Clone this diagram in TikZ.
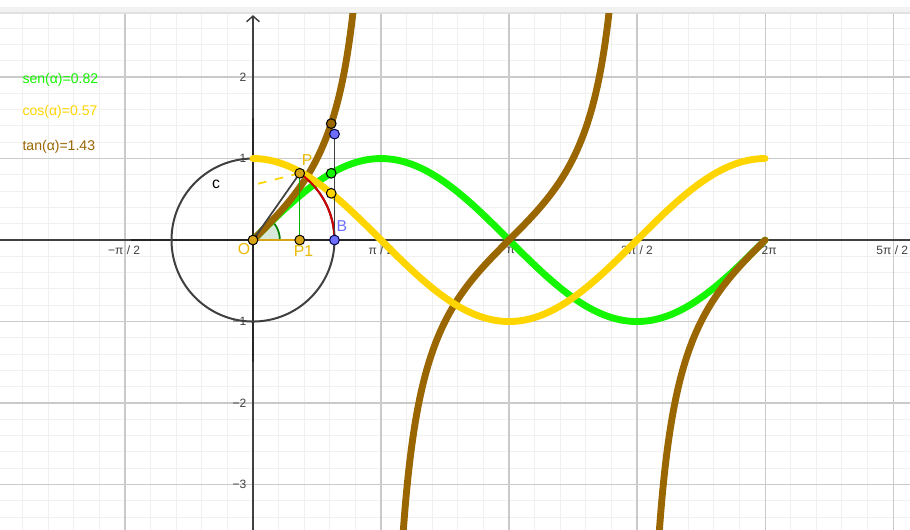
\documentclass[tikz,border=0pt]{standalone}
\usepackage{fontspec}
\setmainfont{Liberation Sans}
\usetikzlibrary{arrows.meta}
\definecolor{sencol}{RGB}{20,245,0}
\definecolor{coscol}{RGB}{255,213,0}
\definecolor{tancol}{RGB}{153,102,0}
\definecolor{ptcol}{RGB}{214,164,20}
\definecolor{lblcol}{RGB}{235,185,0}
\definecolor{bluecol}{RGB}{110,110,255}
\definecolor{axcol}{RGB}{64,64,64}
\definecolor{minorgrid}{RGB}{240,240,240}
\definecolor{majorgrid}{RGB}{202,202,202}

\begin{document}
\begin{tikzpicture}[>={Straight Barb[length=2pt,width=4.5pt]},
  curve/.style={line width=2.4pt,line cap=round,line join=round},
  pt/.style={circle,draw=black,line width=0.35pt,inner sep=0pt,minimum size=3.4pt},
  ticklbl/.style={font=\fontsize{4.2}{5}\selectfont,text=axcol,inner sep=0pt},
  ptlbl/.style={font=\fontsize{5.5}{6}\selectfont,inner sep=0pt},
  legend/.style={font=\fontsize{4.9}{6}\selectfont,inner sep=0pt,anchor=west}]
\useasboundingbox (-3.104,-3.546) rectangle (8.061,2.945);
\fill[white] (-3.104,-3.546) rectangle (8.061,2.945);
\fill[black!5] (-3.104,2.785) rectangle (8.061,2.86);
% grid
\begin{scope}
\clip (-3.104,-3.546) rectangle (8.061,2.785);
\foreach \k in {-9,...,25}
  \draw[minorgrid,line width=0.35pt] ({\k*pi/10},-3.6)--({\k*pi/10},2.8);
\foreach \k in {-17,...,13}
  \draw[minorgrid,line width=0.35pt] (-3.2,\k*0.2)--(8.1,\k*0.2);
\foreach \k in {-1,1,2,3,4,5}
  \draw[majorgrid,line width=0.4pt] ({\k*pi/2},-3.6)--({\k*pi/2},2.8);
\foreach \y in {-3,-2,-1,1,2}
  \draw[majorgrid,line width=0.4pt] (-3.2,\y)--(8.1,\y);
\end{scope}
\draw[black!12,line width=0.5pt] (-3.104,2.785)--(8.061,2.785);
% axes
\draw[axcol,line width=0.5pt] (-3.2,0)--(8.1,0);
\draw[axcol,line width=0.5pt,->] (0,-3.6)--(0,2.76);
\draw[black!85,line width=0.9pt] (-1.5,0)--(1.5,0) (0,-1.5)--(0,1.5);
\foreach \lab/\xx/\dx in {{−π / 2}/-1/-0.01,{π / 2}/1/0,{π}/2/0.02,{3π / 2}/3/0,{2π}/4/0.05,{5π / 2}/5/-0.01}
  \node[ticklbl] at ({\xx*pi/2+\dx},-0.125) {\lab};
\foreach \lab/\y in {2/2,1/1,−1/-1,−2/-2,−3/-3}
  \node[ticklbl,anchor=east] at (-0.075,\y) {\lab};
\coordinate (O) at (0,0);
\coordinate (P) at (55:1);
\coordinate (P1) at ({cos(55)},0);
\coordinate (B) at (1,0);
\coordinate (T) at (1,1.3);
\coordinate (D) at (0,0.675);
% circle and angle
\draw[axcol,line width=0.7pt] (O) circle (1);
\fill[green!40!black,opacity=0.15] (O)--(0.33,0) arc (0:55:0.33)--cycle;
\draw[green!50!black,line width=0.6pt] (0.33,0) arc (0:55:0.33);
% curves
\begin{scope}
\clip (-3.104,-3.546) rectangle (8.061,2.785);
\draw[sencol,curve] plot[domain=0:2*pi,samples=120] (\x,{sin(\x r)});
\draw[tancol,curve] plot[domain=0:1.245,samples=120] (\x,{tan(\x r)});
\draw[tancol,curve] plot[domain=1.84:4.385,samples=200] (\x,{tan(\x r)});
\draw[tancol,curve] plot[domain=4.98:2*pi,samples=120] (\x,{tan(\x r)});
\draw[coscol,curve] plot[domain=0:2*pi,samples=120] (\x,{cos(\x r)});
\end{scope}
% segments
\draw[coscol,dashed,line width=0.6pt] (P)--(D);
\draw[axcol,line width=0.6pt] (O)--(P);
\draw[green!60!black!70!sencol,line width=0.5pt] (P1)--(P);
\draw[ptcol,line width=0.8pt] (O)--(P1);
\draw[red!80!black,line width=0.7pt] (B) arc (0:55:1);
\draw[axcol,line width=0.6pt] (B)--(T);
% points
\node[pt,fill=ptcol] (o) at (O) {};
\node[pt,fill=ptcol] (p1) at (P1) {};
\node[pt,fill=ptcol] (p) at (P) {};
\node[pt,fill=bluecol,draw=blue!30!black] (b) at (B) {};
\node[pt,fill=bluecol,draw=blue!30!black] (t) at (T) {};
\node[pt,fill=sencol] (s) at (0.9599,{sin(55)}) {};
\node[pt,fill=coscol] (c) at (0.9599,{cos(55)}) {};
\node[pt,fill=tancol] (tg) at (0.9599,{tan(55)}) {};
% labels
\node[ptlbl,text=lblcol] (lo) at (-0.11,-0.11) {O};
\node[ptlbl,text=lblcol] (lp) at (0.663,0.982) {P};
\node[ptlbl,text=lblcol] (lp1) at (0.62,-0.14) {P1};
\node[ptlbl,text=bluecol] (lb) at (1.09,0.17) {B};
\node[ptlbl] (lc) at (-0.454,0.687) {c};
\node[legend,text=sencol] (lsen) at (-2.834,1.963) {sen(α)=0.82};
\node[legend,text=coscol] (lcos) at (-2.834,1.577) {cos(α)=0.57};
\node[legend,text=tancol] (ltan) at (-2.834,1.141) {tan(α)=1.43};
\end{tikzpicture}
\end{document}
